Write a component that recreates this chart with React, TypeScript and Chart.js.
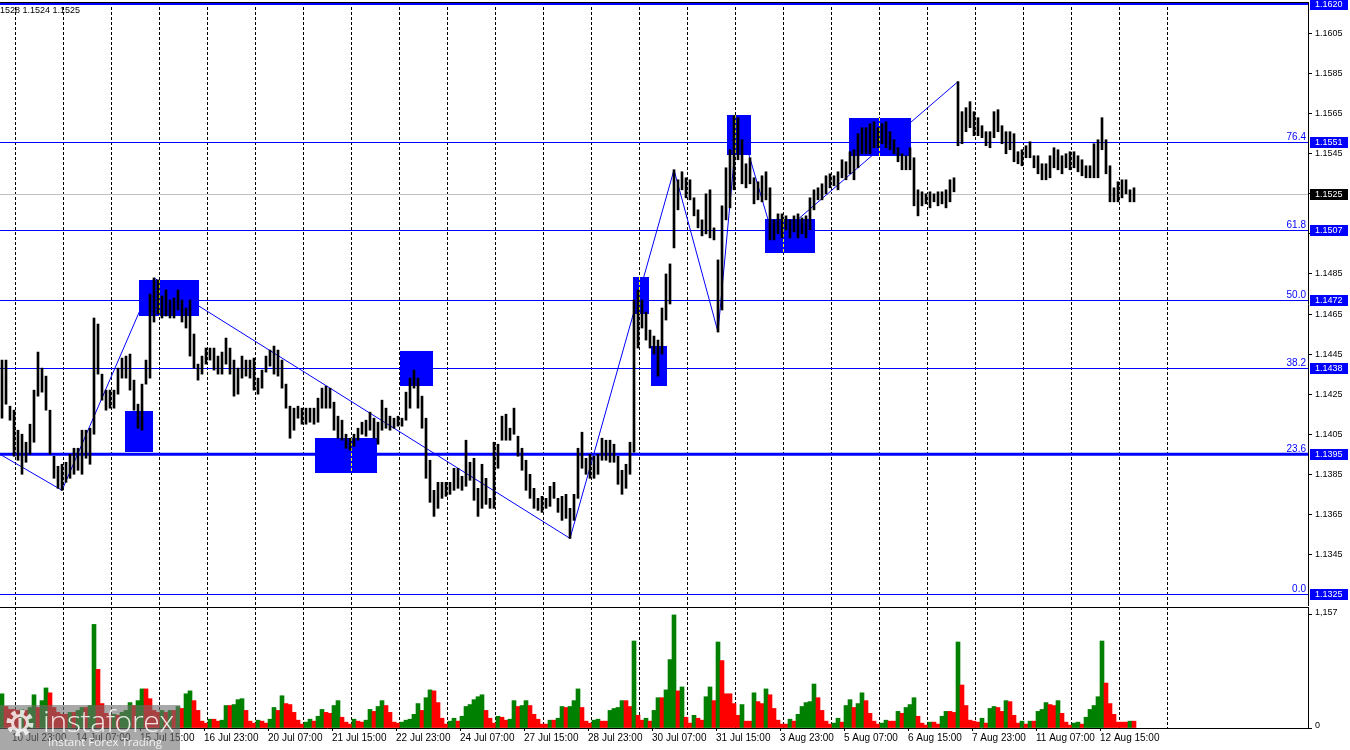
import { useEffect, useRef } from "react";
import { Chart, registerables } from "chart.js";

Chart.register(...registerables);

// prices are kept in pips above BASE, one entry per two hourly bars
const BASE = 1.13;

const BAR_HIGH = [
  142, 142, 119, 117, 107, 105, 101, 110, 127, 146,
  138, 134, 117, 94, 89, 90, 91, 95, 98, 98,
  107, 107, 108, 163, 160, 135, 127, 127, 127, 138,
  143, 144, 145, 132, 120, 130, 142, 175, 183, 182,
  174, 177, 172, 173, 177, 172, 168, 172, 155, 140,
  144, 148, 148, 148, 144, 146, 153, 148, 142, 138,
  144, 142, 142, 143, 133, 137, 144, 147, 149, 147,
  142, 130, 119, 118, 119, 118, 118, 118, 118, 123,
  128, 129, 128, 121, 114, 112, 105, 103, 105, 108,
  111, 112, 116, 113, 111, 122, 118, 114, 113, 114,
  113, 126, 133, 137, 133, 124, 113, 92, 77, 81,
  81, 81, 81, 88, 88, 84, 102, 91, 93, 78,
  90, 83, 73, 101, 100, 114, 115, 108, 118, 104,
  98, 92, 85, 78, 73, 74, 73, 79, 81, 73,
  74, 75, 68, 75, 98, 106, 93, 95, 94, 95,
  103, 102, 102, 100, 94, 87, 90, 101, 172, 177,
  172, 166, 157, 154, 152, 168, 185, 190, 237, 232,
  236, 233, 232, 223, 217, 212, 225, 227, 208, 192,
  219, 238, 247, 264, 263, 252, 240, 243, 233, 231,
  234, 236, 228, 212, 215, 215, 214, 212, 214, 215,
  213, 214, 223, 227, 228, 230, 234, 235, 234, 236,
  242, 241, 246, 247, 255, 258, 258, 260, 261, 258,
  260, 261, 256, 252, 248, 245, 244, 248, 243, 227,
  226, 225, 226, 225, 226, 226, 227, 232, 233, 281,
  266, 268, 271, 266, 263, 259, 256, 256, 266, 267,
  259, 256, 256, 255, 246, 247, 249, 251, 244, 244,
  240, 240, 244, 248, 247, 244, 245, 246, 246, 244,
  242, 239, 239, 250, 252, 263, 252, 239, 228, 231,
  232, 232, 227, 228,
];

const BAR_LOW = [
  113, 120, 112, 94, 92, 85, 91, 95, 101, 124,
  126, 117, 95, 83, 78, 77, 81, 83, 85, 87,
  85, 93, 90, 105, 135, 122, 117, 118, 118, 125,
  133, 133, 127, 117, 108, 107, 130, 133, 161, 165,
  163, 164, 163, 163, 167, 161, 158, 144, 138, 132,
  135, 140, 142, 137, 135, 135, 140, 135, 124, 125,
  133, 134, 133, 127, 125, 128, 136, 139, 135, 134,
  128, 118, 103, 107, 113, 110, 110, 111, 110, 111,
  118, 118, 118, 107, 103, 102, 98, 97, 99, 102,
  105, 104, 107, 103, 100, 107, 108, 107, 108, 109,
  109, 112, 118, 128, 118, 108, 83, 71, 64, 68,
  73, 74, 75, 77, 78, 77, 79, 82, 72, 64,
  68, 70, 68, 68, 88, 102, 102, 102, 105, 94,
  87, 77, 73, 68, 67, 66, 68, 69, 73, 66,
  62, 63, 53, 62, 73, 88, 85, 83, 83, 85,
  92, 92, 91, 91, 80, 75, 78, 85, 96, 148,
  158, 152, 148, 145, 134, 145, 162, 170, 198, 217,
  227, 223, 222, 214, 208, 204, 205, 203, 202, 156,
  167, 212, 218, 227, 242, 230, 228, 230, 220, 222,
  221, 222, 202, 202, 205, 203, 207, 203, 206, 203,
  205, 203, 207, 217, 222, 222, 225, 228, 229, 227,
  233, 232, 235, 232, 238, 245, 245, 245, 248, 248,
  250, 248, 247, 245, 241, 237, 237, 237, 219, 214,
  219, 220, 218, 221, 219, 220, 218, 221, 226, 249,
  250, 256, 258, 254, 254, 253, 249, 248, 253, 256,
  250, 245, 247, 241, 240, 239, 243, 243, 238, 235,
  232, 232, 233, 238, 237, 235, 238, 237, 238, 236,
  234, 233, 233, 233, 233, 247, 235, 221, 221, 221,
  223, 225, 221, 221,
];

const VOLUME = [
  350, 220, 190, 190, 180, 190, 180, 210, 340, 210,
  280, 410, 360, 210, 160, 140, 140, 160, 160, 180,
  210, 210, 230, 1060, 600, 250, 150, 130, 140, 130,
  160, 180, 260, 230, 280, 400, 400, 300, 180, 160,
  180, 160, 180, 180, 220, 200, 350, 380, 280, 180,
  70, 50, 90, 90, 70, 80, 230, 230, 240, 290,
  300, 180, 70, 50, 80, 70, 50, 90, 210, 180,
  330, 250, 240, 160, 80, 40, 60, 90, 70, 120,
  190, 160, 150, 230, 280, 110, 60, 40, 90, 70,
  60, 80, 190, 170, 220, 280, 230, 160, 60, 50,
  60, 80, 90, 140, 250, 180, 310, 390, 380, 260,
  100, 40, 70, 100, 70, 120, 220, 240, 290, 320,
  340, 180, 100, 50, 120, 110, 80, 90, 280, 220,
  230, 280, 230, 140, 90, 40, 40, 80, 80, 100,
  220, 210, 220, 280, 400, 210, 70, 50, 80, 90,
  70, 70, 180, 200, 210, 280, 280, 220, 890, 130,
  80, 100, 70, 180, 310, 310, 390, 700, 1157, 380,
  420, 110, 50, 130, 100, 80, 320, 420, 280, 880,
  690, 350, 350, 250, 130, 240, 70, 70, 360, 270,
  250, 400, 340, 200, 80, 40, 40, 90, 70, 140,
  220, 260, 270, 450, 310, 180, 70, 40, 50, 100,
  60, 230, 290, 210, 250, 360, 280, 150, 70, 40,
  50, 80, 70, 70, 170, 150, 210, 240, 310, 120,
  50, 30, 60, 60, 40, 120, 170, 170, 160, 880,
  440, 230, 80, 70, 60, 100, 50, 200, 220, 210,
  170, 280, 270, 130, 50, 70, 40, 70, 70, 170,
  190, 260, 240, 230, 280, 150, 60, 30, 50, 60,
  40, 110, 190, 230, 320, 890, 460, 250, 140, 60,
  60, 60, 70, 70,
];

const X_LABELS = [
  "10 Jul 23:00", "14 Jul 07:00", "15 Jul 15:00", "16 Jul 23:00", "20 Jul 07:00",
  "21 Jul 15:00", "22 Jul 23:00", "24 Jul 07:00", "27 Jul 15:00", "28 Jul 23:00",
  "30 Jul 07:00", "31 Jul 15:00", "3 Aug 23:00", "5 Aug 07:00", "6 Aug 15:00",
  "7 Aug 23:00", "11 Aug 07:00", "12 Aug 15:00",
];
const LABEL_FIRST = 3;
const LABEL_STEP = 16;

const PRICE_TICKS = [
  1.1345, 1.1365, 1.1385, 1.1405, 1.1425, 1.1445, 1.1465,
  1.1485, 1.1505, 1.1525, 1.1545, 1.1565, 1.1585, 1.1605,
];
const VOLUME_TICKS = [0, 1157];

const FIB_RATIOS = ["0.0", "23.6", "38.2", "50.0", "61.8", "76.4", "100.0"];
const FIB_PRICES = [1.1325, 1.1395, 1.1438, 1.1472, 1.1507, 1.1551, 1.162];
const THICK_LEVELS = [1.1395, 1.162];
const LAST_PRICE = 1.1525;
const TOP_TEXT = "1528 1.1524 1.1525";

// zigzag: an off-screen pivot, then bar indices alternating low / high
const ZIGZAG_START_BAR = -10;
const ZIGZAG_START_PIP = 106;
const ZIGZAG_BARS = [15, 38, 142, 168, 179, 184, 193, 239];

// blue zones, in bar units and prices
const ZONE_FROM = [34.75, 31.25, 78.75, 100, 158.25, 162.75, 181.75, 191.25, 212.25];
const ZONE_TO = [49.75, 38.25, 94.25, 108.25, 162.25, 166.75, 187.75, 203.75, 227.75];
const ZONE_HIGH = [1.14818, 1.14168, 1.14033, 1.14463, 1.14833, 1.14488, 1.15643, 1.15123, 1.15628];
const ZONE_LOW = [1.14639, 1.13959, 1.13854, 1.14289, 1.14649, 1.14289, 1.15444, 1.14954, 1.15439];

const X_MAX = 327;
const Y_MIN = 1.131925;
const Y_MAX = 1.162075;
const VOL_MAX = 1238;
const GRID_FIRST = 3.8;
const GRID_STEP = 12;
const GRID_COUNT = 25;

const BLUE = "#0000ff";
const FONT = "Liberation Sans";

const toPrice = (pip: number) => BASE + pip / 10000;

function gridPixels(x: any): number[] {
  const out: number[] = [];
  for (let k = 0; k < GRID_COUNT; k++) {
    out.push(Math.round(x.getPixelForValue(GRID_FIRST + k * GRID_STEP)) + 0.5);
  }
  return out;
}

function dashedV(ctx: CanvasRenderingContext2D, px: number, top: number, bottom: number, color: string) {
  ctx.save();
  ctx.strokeStyle = color;
  ctx.lineWidth = 1;
  ctx.setLineDash([3, 2]);
  ctx.beginPath();
  ctx.moveTo(px, top);
  ctx.lineTo(px, bottom);
  ctx.stroke();
  ctx.restore();
}

function hLine(ctx: CanvasRenderingContext2D, left: number, right: number, yy: number, color: string, width: number) {
  ctx.save();
  ctx.strokeStyle = color;
  ctx.lineWidth = width;
  ctx.beginPath();
  ctx.moveTo(left, yy);
  ctx.lineTo(right, yy);
  ctx.stroke();
  ctx.restore();
}

const priceOverlay = {
  id: "priceOverlay",
  beforeDatasetsDraw(chart: any) {
    const { ctx, chartArea: a, scales } = chart;
    const x = scales.x;
    const y = scales.y;
    const py = (p: number) => Math.round(y.getPixelForValue(p)) + 0.5;
    ctx.save();
    ctx.beginPath();
    ctx.rect(a.left, a.top, a.right - a.left, a.bottom - a.top);
    ctx.clip();

    const grid = gridPixels(x);
    grid.forEach((gx) => dashedV(ctx, gx, a.top, a.bottom, "#000"));

    hLine(ctx, a.left, a.right, py(LAST_PRICE), "#c0c0c0", 1);
    FIB_PRICES.forEach((p) => {
      const thick = THICK_LEVELS.includes(p);
      hLine(ctx, a.left, a.right, thick ? y.getPixelForValue(p) : py(p), BLUE, thick ? 3 : 1);
    });

    // zigzag
    ctx.strokeStyle = BLUE;
    ctx.lineWidth = 1;
    ctx.beginPath();
    ctx.moveTo(x.getPixelForValue(ZIGZAG_START_BAR + 0.5), y.getPixelForValue(toPrice(ZIGZAG_START_PIP)));
    ZIGZAG_BARS.forEach((b, k) => {
      const pip = k % 2 === 0 ? BAR_LOW[b] : BAR_HIGH[b];
      ctx.lineTo(x.getPixelForValue(b + 0.5), y.getPixelForValue(toPrice(pip)));
    });
    ctx.stroke();

    // zones
    ctx.fillStyle = BLUE;
    ZONE_FROM.forEach((from, i) => {
      const x0 = Math.round(x.getPixelForValue(from));
      const x1 = Math.round(x.getPixelForValue(ZONE_TO[i]));
      const y0 = Math.round(y.getPixelForValue(ZONE_HIGH[i]));
      const y1 = Math.round(y.getPixelForValue(ZONE_LOW[i]));
      ctx.fillRect(x0, y0, x1 - x0, y1 - y0);
      grid.forEach((gx) => {
        if (gx >= x0 && gx <= x1) dashedV(ctx, gx, y0, y1, "#ffff00");
      });
    });
    ctx.restore();
  },
  afterDraw(chart: any) {
    const { ctx, chartArea: a, scales } = chart;
    const y = scales.y;
    ctx.save();
    hLine(ctx, a.left, a.right, a.top + 0.5, "#000", 1);
    hLine(ctx, a.left, a.right, a.bottom + 0.5, "#000", 1);

    ctx.font = `10px "${FONT}"`;
    ctx.textAlign = "right";
    ctx.textBaseline = "alphabetic";
    ctx.fillStyle = BLUE;
    FIB_RATIOS.forEach((r, i) => {
      const ly = Math.round(y.getPixelForValue(FIB_PRICES[i])) - 2;
      if (ly > a.top + 10) ctx.fillText(r, a.right - 2, ly);
    });

    const box = (p: number, bg: string) => {
      const cy = Math.round(y.getPixelForValue(p));
      ctx.fillStyle = bg;
      ctx.fillRect(a.right + 2, cy - 5, 38, 11);
      ctx.fillStyle = "#fff";
      ctx.font = `9px "${FONT}"`;
      ctx.textAlign = "left";
      ctx.textBaseline = "middle";
      ctx.fillText(p.toFixed(4), a.right + 7, cy + 0.5);
    };
    FIB_PRICES.forEach((p) => box(p, BLUE));
    box(LAST_PRICE, "#000");

    ctx.fillStyle = "#000";
    ctx.font = `9px "${FONT}"`;
    ctx.textAlign = "left";
    ctx.textBaseline = "middle";
    ctx.fillText(TOP_TEXT, 0, 11);
    ctx.restore();
  },
};

const volumeOverlay = {
  id: "volumeOverlay",
  beforeDatasetsDraw(chart: any) {
    const { ctx, chartArea: a, scales } = chart;
    ctx.save();
    ctx.beginPath();
    ctx.rect(a.left, a.top, a.right - a.left, a.bottom - a.top);
    ctx.clip();
    gridPixels(scales.x).forEach((gx) => dashedV(ctx, gx, a.top, a.bottom, "#000"));
    ctx.restore();
  },
  afterDraw(chart: any) {
    const { ctx, chartArea: a } = chart;
    hLine(ctx, a.left, a.right, a.top + 0.5, "#000", 1);
  },
};

export default function App() {
  const priceRef = useRef<HTMLCanvasElement>(null);
  const volumeRef = useRef<HTMLCanvasElement>(null);

  useEffect(() => {
    if (!priceRef.current || !volumeRef.current) return;

    const priceChart = new Chart(priceRef.current, {
      type: "bar",
      data: {
        datasets: [
          {
            data: BAR_HIGH.map((h, i) => ({ x: i + 0.5, y: [toPrice(BAR_LOW[i]), toPrice(h)] })) as any,
            backgroundColor: "#000",
            borderWidth: 0,
            barThickness: 2,
          },
        ],
      },
      options: {
        responsive: false,
        animation: false,
        layout: { padding: { top: 2, bottom: 0, left: 0, right: 0 } },
        plugins: { legend: { display: false }, tooltip: { enabled: false } },
        scales: {
          x: { type: "linear", min: 0, max: X_MAX, offset: false, display: false, grid: { offset: false } },
          y: {
            type: "linear",
            position: "right",
            min: Y_MIN,
            max: Y_MAX,
            afterBuildTicks: (s: any) => {
              s.ticks = PRICE_TICKS.map((v) => ({ value: v }));
            },
            afterFit: (s: any) => {
              s.width = 42;
              s.paddingTop = 0;
              s.paddingBottom = 0;
            },
            ticks: {
              callback: (v: any) => Number(v).toFixed(4),
              color: "#000",
              font: { family: FONT, size: 9 },
              padding: 3,
            },
            grid: { drawOnChartArea: false, tickLength: 4, color: "#000" },
            border: { display: true, color: "#000" },
          },
        },
      },
      plugins: [priceOverlay],
    });

    const volumeChart = new Chart(volumeRef.current, {
      type: "bar",
      data: {
        datasets: [
          {
            data: VOLUME.map((v, i) => ({ x: i + 0.5, y: v })) as any,
            backgroundColor: VOLUME.map((v, i) => (i > 0 && v <= VOLUME[i - 1] ? "#ff0000" : "#008000")),
            borderWidth: 0,
            barThickness: 4,
          },
        ],
      },
      options: {
        responsive: false,
        animation: false,
        layout: { padding: { top: 7, bottom: 0, left: 0, right: 0 } },
        plugins: { legend: { display: false }, tooltip: { enabled: false } },
        scales: {
          x: {
            type: "linear",
            min: 0,
            max: X_MAX,
            offset: false,
            afterBuildTicks: (s: any) => {
              s.ticks = X_LABELS.map((_, k) => ({ value: LABEL_FIRST + k * LABEL_STEP }));
            },
            afterFit: (s: any) => {
              s.height = 22;
              s.paddingLeft = 0;
              s.paddingRight = 0;
            },
            ticks: {
              callback: (_v: any, i: number) => X_LABELS[i],
              autoSkip: false,
              maxRotation: 0,
              align: "start",
              color: "#000",
              font: { family: FONT, size: 10 },
              padding: 1,
            },
            grid: { drawOnChartArea: false, offset: false, tickLength: 3, color: "#000" },
            border: { display: true, color: "#000" },
          },
          y: {
            type: "linear",
            position: "right",
            min: 0,
            max: VOL_MAX,
            afterBuildTicks: (s: any) => {
              s.ticks = VOLUME_TICKS.map((v) => ({ value: v }));
            },
            afterFit: (s: any) => {
              s.width = 42;
              s.paddingTop = 0;
              s.paddingBottom = 0;
            },
            ticks: {
              color: "#000",
              font: { family: FONT, size: 9 },
              padding: 3,
              labelOffset: -2.5,
            },
            grid: { drawOnChartArea: false, tickLength: 4, color: "#000" },
            border: { display: true, color: "#000" },
          },
        },
      },
      plugins: [volumeOverlay],
    });

    return () => {
      priceChart.destroy();
      volumeChart.destroy();
    };
  }, []);

  return (
    <div
      style={{
        position: "fixed",
        left: 0,
        top: 0,
        width: 1350,
        height: 750,
        background: "#fff",
        overflow: "hidden",
      }}
    >
      <canvas ref={priceRef} width={1350} height={606} style={{ position: "absolute", left: 0, top: 0 }} />
      <canvas ref={volumeRef} width={1350} height={150} style={{ position: "absolute", left: 0, top: 600 }} />
      {/* watermark */}
      <div
        style={{
          position: "absolute",
          left: 0,
          top: 705,
          width: 180,
          height: 45,
          background: "rgba(110,110,110,0.6)",
          color: "rgba(255,255,255,0.85)",
          fontFamily: '"Open Sans", sans-serif',
          overflow: "hidden",
        }}
      >
        <svg style={{ position: "absolute", left: 5, top: 3 }} width="30" height="30" viewBox="0 0 30 30">
          <circle cx="15" cy="15" r="11" fill="none" stroke="rgba(255,255,255,0.8)" strokeWidth="5" strokeDasharray="4.3 4.3" />
          <circle cx="15" cy="15" r="7.5" fill="none" stroke="rgba(255,255,255,0.8)" strokeWidth="3" />
          <rect x="13.5" y="10" width="3" height="11" fill="rgba(255,255,255,0.8)" />
        </svg>
        <div style={{ position: "absolute", left: 43, top: -5, fontSize: 30, fontWeight: 300, letterSpacing: -0.3 }}>
          instaforex
        </div>
        <div style={{ position: "absolute", left: 48, top: 29, fontSize: 11.5 }}>Instant Forex Trading</div>
      </div>
    </div>
  );
}
